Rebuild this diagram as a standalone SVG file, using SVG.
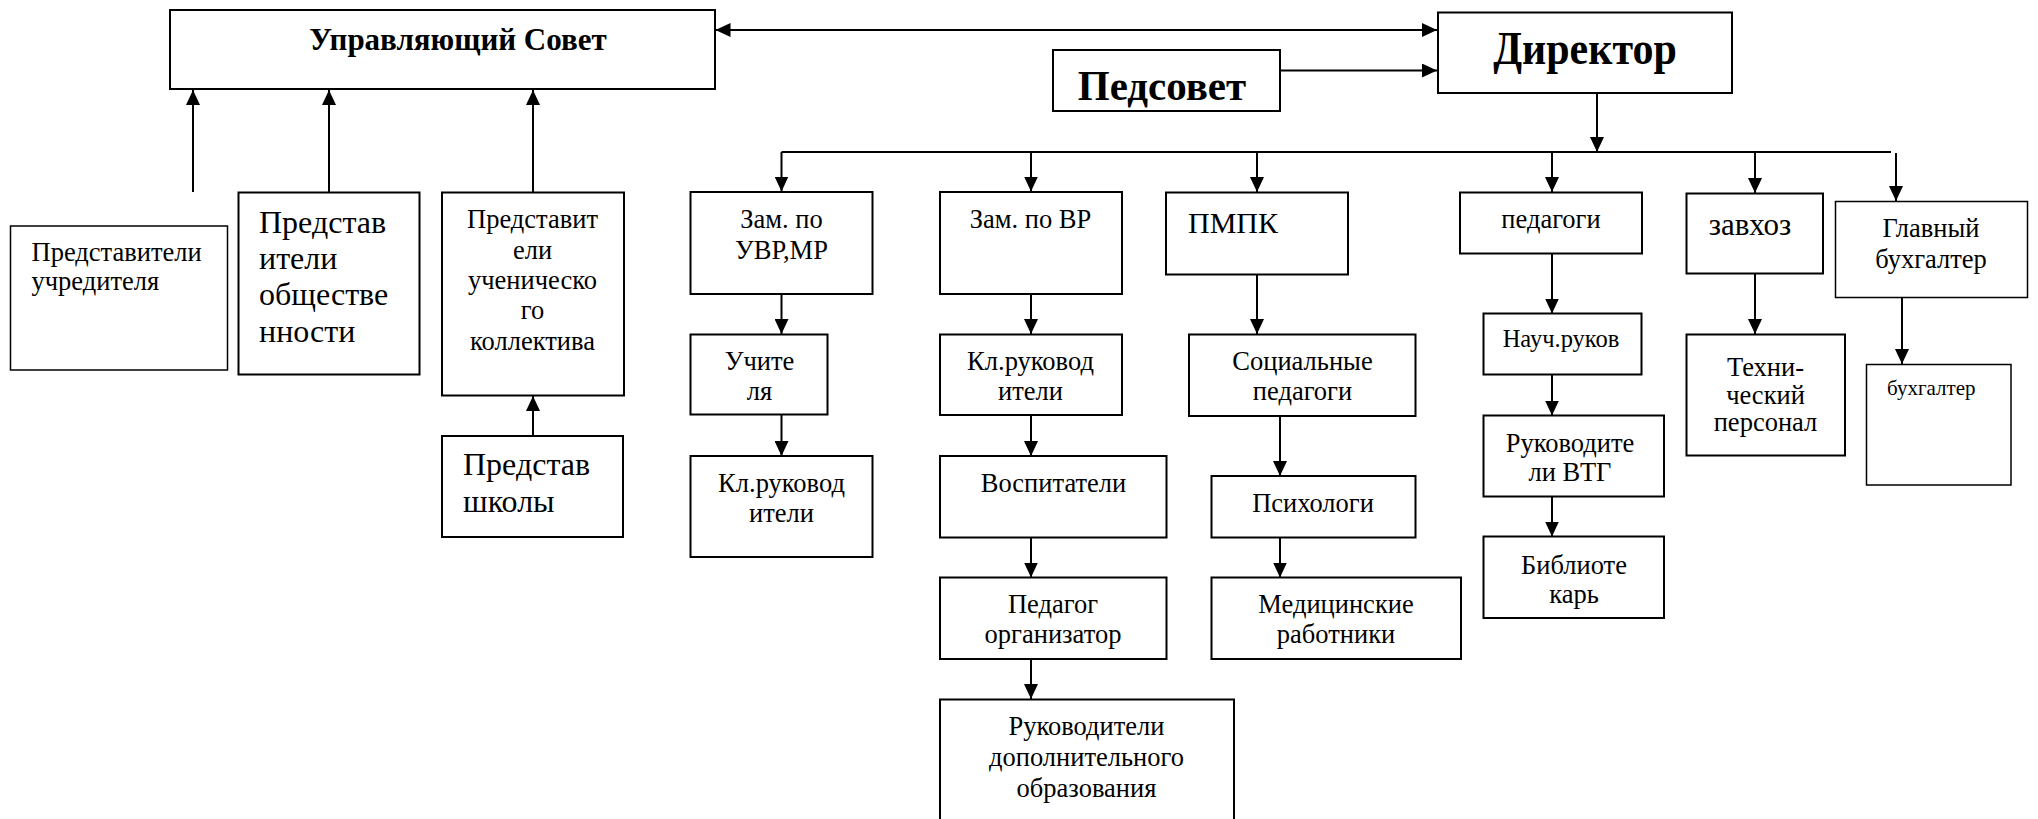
<svg xmlns="http://www.w3.org/2000/svg" width="2038" height="819" viewBox="0 0 2038 819">
<defs>
<marker id="ah" markerUnits="userSpaceOnUse" markerWidth="15" markerHeight="14" refX="15" refY="7" orient="auto-start-reverse">
<path d="M0,0 L15,7 L0,14 z" fill="#000"/>
</marker>
<style>
rect{fill:#fff;stroke:#000;stroke-width:2}
rect.thin{stroke-width:1.5}
text{font-family:"Liberation Serif","Times New Roman","DejaVu Serif","Noto Serif",serif;font-size:26.5px;fill:#000}
.m{text-anchor:middle}
.b{font-weight:bold}
.c line{stroke:#000;stroke-width:2}
.c line.a{marker-end:url(#ah)}
</style>
</defs>
<rect width="2038" height="819" style="fill:#fff;stroke:none"/>

<g class="c" id="connectors">
<line class="a" x1="715.5" y1="30" x2="1437" y2="30" style="marker-start:url(#ah)"/>
<line class="a" x1="1280" y1="70.5" x2="1437" y2="70.5"/>
<line class="a" x1="193" y1="192" x2="193" y2="90"/>
<line class="a" x1="329" y1="192" x2="329" y2="90"/>
<line class="a" x1="533" y1="192" x2="533" y2="90"/>
<line class="a" x1="533" y1="435.5" x2="533" y2="396"/>
<line class="a" x1="1597" y1="93" x2="1597" y2="152"/>
<line x1="781.5" y1="152" x2="1891" y2="152"/>
<line class="a" x1="781.5" y1="152" x2="781.5" y2="191.5"/>
<line class="a" x1="1031" y1="152" x2="1031" y2="191.5"/>
<line class="a" x1="1257" y1="152" x2="1257" y2="192"/>
<line class="a" x1="1552" y1="152" x2="1552" y2="192"/>
<line class="a" x1="1755" y1="152" x2="1755" y2="193"/>
<line class="a" x1="1896" y1="153" x2="1896" y2="201"/>
<line class="a" x1="781.5" y1="294" x2="781.5" y2="334"/>
<line class="a" x1="781.5" y1="414" x2="781.5" y2="456"/>
<line class="a" x1="1031" y1="294" x2="1031" y2="334"/>
<line class="a" x1="1031" y1="415" x2="1031" y2="456"/>
<line class="a" x1="1031" y1="537.5" x2="1031" y2="577.5"/>
<line class="a" x1="1031" y1="659" x2="1031" y2="699"/>
<line class="a" x1="1257" y1="274" x2="1257" y2="334"/>
<line class="a" x1="1280" y1="416" x2="1280" y2="476"/>
<line class="a" x1="1280" y1="537.5" x2="1280" y2="577.5"/>
<line class="a" x1="1552" y1="253.5" x2="1552" y2="313.5"/>
<line class="a" x1="1552" y1="374.5" x2="1552" y2="415.5"/>
<line class="a" x1="1552" y1="496.5" x2="1552" y2="536.5"/>
<line class="a" x1="1755" y1="273.5" x2="1755" y2="334"/>
<line class="a" x1="1902" y1="293" x2="1902" y2="364"/>
</g>

<g id="upravl-sovet"><rect x="170" y="10" width="545" height="79"/><text class="m b" x="458" y="50" style="font-size:31px" transform="matrix(1,0,0,1.05,0,-2.5)">Управляющий Совет</text></g>
<g id="direktor"><rect x="1438" y="12.5" width="294" height="80.5"/><text class="m b" x="1585" y="64" style="font-size:42px" transform="matrix(1,0,0,1.1,0,-6.4)">Директор</text></g>
<g id="pedsovet"><rect x="1053" y="50" width="227" height="61"/><text class="m b" x="1162" y="100" style="font-size:41px" transform="matrix(1,0,0,1.04,0,-4)">Педсовет</text></g>

<g id="pred-uchreditelya"><rect class="thin" x="10.5" y="226" width="217" height="144"/><text x="31.5" y="261">Представители<tspan x="31.5" y="290">учредителя</tspan></text></g>
<g id="pred-obshchestvennosti"><rect x="238.5" y="192.5" width="181" height="182"/><text x="259" y="233" style="font-size:32px">Представ<tspan x="259" y="269">ители</tspan><tspan x="259" y="305">обществе</tspan><tspan x="259" y="342">нности</tspan></text></g>
<g id="pred-uchenicheskogo"><rect x="442" y="192.5" width="182" height="203"/><text class="m" x="532.5" y="228">Представит<tspan x="532.5" y="258.5">ели</tspan><tspan x="532.5" y="289">ученическо</tspan><tspan x="532.5" y="319">го</tspan><tspan x="532.5" y="349.5">коллектива</tspan></text></g>
<g id="pred-shkoly"><rect x="442" y="436" width="181" height="101"/><text x="463" y="475" style="font-size:32px">Представ<tspan x="463" y="512">школы</tspan></text></g>

<g id="zam-uvr"><rect x="690.5" y="192" width="182" height="102"/><text class="m" x="781.5" y="228">Зам. по<tspan x="781.5" y="258.5">УВР,МР</tspan></text></g>
<g id="uchitelya"><rect x="690.5" y="334.5" width="137" height="80"/><text class="m" x="759.5" y="370">Учите<tspan x="759.5" y="400">ля</tspan></text></g>
<g id="kl-ruk-1"><rect x="690.5" y="456" width="182" height="101"/><text class="m" x="781.5" y="491.5">Кл.руковод<tspan x="781.5" y="521.5">ители</tspan></text></g>

<g id="zam-vr"><rect x="940" y="192" width="182" height="102"/><text class="m" x="1030.5" y="228">Зам. по ВР</text></g>
<g id="kl-ruk-2"><rect x="940" y="334.5" width="182" height="80.5"/><text class="m" x="1030.5" y="370">Кл.руковод<tspan x="1030.5" y="400">ители</tspan></text></g>
<g id="vospitateli"><rect x="940" y="456" width="226.5" height="81.5"/><text class="m" x="1053.5" y="491.5">Воспитатели</text></g>
<g id="pedagog-org"><rect x="940" y="577.5" width="226.5" height="81.5"/><text class="m" x="1053" y="613">Педагог<tspan x="1053" y="643">организатор</tspan></text></g>
<g id="ruk-dop"><rect x="940" y="699.5" width="294" height="140"/><text class="m" x="1086.5" y="735">Руководители<tspan x="1086.5" y="766">дополнительного</tspan><tspan x="1086.5" y="796.5">образования</tspan></text></g>

<g id="pmpk"><rect x="1166" y="192.5" width="182" height="82"/><text x="1188" y="232.5" style="font-size:30px">ПМПК</text></g>
<g id="soc-ped"><rect x="1189" y="334.5" width="226.5" height="81.5"/><text class="m" x="1302.5" y="370">Социальные<tspan x="1302.5" y="399.5">педагоги</tspan></text></g>
<g id="psihologi"><rect x="1211.5" y="476" width="204" height="61.5"/><text class="m" x="1313" y="511.5">Психологи</text></g>
<g id="med"><rect x="1211.5" y="577.5" width="249.5" height="81.5"/><text class="m" x="1336" y="613">Медицинские<tspan x="1336" y="643">работники</tspan></text></g>

<g id="pedagogi"><rect x="1460" y="192.5" width="182" height="61"/><text class="m" x="1551" y="228">педагоги</text></g>
<g id="nauch-ruk"><rect x="1483.5" y="313.5" width="158" height="61"/><text class="m" x="1561" y="347" style="font-size:24.5px">Науч.руков</text></g>
<g id="ruk-vtg"><rect x="1483.5" y="415.5" width="180.5" height="81"/><text class="m" x="1570" y="451.5">Руководите<tspan x="1570" y="481">ли ВТГ</tspan></text></g>
<g id="bibliotekar"><rect x="1483.5" y="536.5" width="180.5" height="81.5"/><text class="m" x="1574" y="574">Библиоте<tspan x="1574" y="603">карь</tspan></text></g>

<g id="zavhoz"><rect x="1686.5" y="193.5" width="136.5" height="80"/><text class="m" x="1750" y="235" style="font-size:31px">завхоз</text></g>
<g id="tech-personal"><rect x="1686.5" y="334.5" width="158.5" height="121"/><text class="m" x="1765.5" y="376">Техни-<tspan x="1765.5" y="404">ческий</tspan><tspan x="1765.5" y="431">персонал</tspan></text></g>
<g id="glav-buh"><rect class="thin" x="1835.5" y="201.5" width="192" height="96"/><text class="m" x="1931" y="237">Главный<tspan x="1931" y="268">бухгалтер</tspan></text></g>
<g id="buhgalter"><rect class="thin" x="1866.5" y="364.5" width="144.5" height="120.5"/><text x="1887" y="395" style="font-size:21px">бухгалтер</text></g>
</svg>
